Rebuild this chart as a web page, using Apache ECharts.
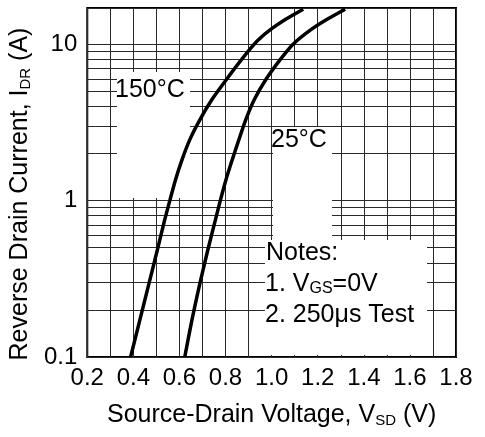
<!DOCTYPE html>
<html><head><meta charset="utf-8">
<script src="https://cdn.jsdelivr.net/npm/echarts@6/dist/echarts.min.js"></script>
<style>html,body{margin:0;padding:0;background:#fff}#c{width:485px;height:437px}</style>
</head><body><div id="c"></div>
<script>
// ---- data ----
const curve150V = [0.388, 0.428, 0.466, 0.504, 0.536, 0.559, 0.583, 0.611, 0.645, 0.689, 0.741, 0.804, 0.853, 0.905, 0.944, 0.996, 1.061, 1.137];
const curve150I = [0.10, 0.172, 0.288, 0.483, 0.752, 1.01, 1.36, 1.82, 2.45, 3.29, 4.42, 5.94, 7.41, 9.25, 10.7, 12.4, 14.4, 16.7];
const curve25V = [0.623, 0.654, 0.687, 0.723, 0.756, 0.778, 0.802, 0.829, 0.858, 0.888, 0.925, 0.975, 1.038, 1.092, 1.172, 1.241, 1.319];
const curve25I = [0.10, 0.172, 0.288, 0.483, 0.752, 1.01, 1.36, 1.82, 2.45, 3.29, 4.42, 5.94, 7.98, 9.95, 12.4, 14.4, 16.7];
const seriesNames = ['150°C', '25°C'];
const xTickLabels = [0.2, 0.4, 0.6, 0.8, 1.0, 1.2, 1.4, 1.6, 1.8];
const yTickLabels = [0.1, 1, 10];
const yMinorGrid = [0.2, 0.3, 0.4, 0.5, 0.6, 0.7, 0.8, 0.9, 2, 3, 4, 5, 6, 7, 8, 9];
const notesLines = ['Notes:', '1. V{sub|GS}=0V', '2. 250μs Test'];
const xName = 'Source-Drain Voltage, V{sub|SD} (V)';
const yName = 'Reverse Drain Current, I{sub|DR} (A)';

const FONT = "'Liberation Sans', Arial, sans-serif";
const gridLine = { color: '#2a2a2a', width: 1, type: 'solid' };
const subRich = { sub: { fontSize: 15, fontFamily: FONT, color: '#000', verticalAlign: 'bottom' } };

const chart = echarts.init(document.getElementById('c'), null, { renderer: 'canvas' });
chart.setOption({
  animation: false,
  backgroundColor: '#fff',
  grid: { left: 87, right: 29, top: 8, bottom: 80, show: true, borderColor: '#000', borderWidth: 2, backgroundColor: 'transparent' },
  xAxis: {
    type: 'value', min: 0.2, max: 1.8, interval: 0.2,
    axisLine: { show: false }, axisTick: { show: false },
    splitLine: { show: true, lineStyle: gridLine },
    minorTick: { show: false, splitNumber: 2 },
    minorSplitLine: { show: true, lineStyle: gridLine },
    axisLabel: {
      fontSize: 24, fontFamily: FONT, color: '#000', margin: 9,
      formatter: v => {
        const hit = xTickLabels.find(t => Math.abs(t - v) < 1e-6);
        return hit === undefined ? '' : hit.toFixed(1);
      }
    },
    name: xName, nameLocation: 'middle', nameGap: 46,
    nameTextStyle: { fontSize: 25, fontFamily: FONT, color: '#000', rich: subRich }
  },
  yAxis: {
    type: 'log', logBase: 10, min: 0.1, max: 17,
    axisLine: { show: false }, axisTick: { show: false },
    splitLine: { show: true, lineStyle: gridLine },
    axisLabel: {
      fontSize: 24, fontFamily: FONT, color: '#000', margin: 10,
      formatter: v => {
        const hit = yTickLabels.find(t => Math.abs(t - v) / t < 1e-6);
        return hit === undefined ? '' : String(hit);
      }
    },
    name: yName, nameLocation: 'middle', nameGap: 48,
    nameTextStyle: { fontSize: 25, fontFamily: FONT, color: '#000', padding: [0, 23, 0, 0], rich: subRich }
  },
  series: [
    {
      name: seriesNames[0], type: 'line', z: 10,
      data: curve150V.map((v, i) => [v, curve150I[i]]),
      smooth: 0.25, symbol: 'none', showSymbol: false,
      lineStyle: { color: '#000', width: 3.5 }
    },
    {
      name: seriesNames[1], type: 'line', z: 10,
      data: curve25V.map((v, i) => [v, curve25I[i]]),
      smooth: 0.25, symbol: 'none', showSymbol: false,
      lineStyle: { color: '#000', width: 3.5 },
      markLine: {
        z: 1, silent: true, animation: false, symbol: ['none', 'none'],
        label: { show: false }, lineStyle: gridLine,
        emphasis: { disabled: true },
        data: yMinorGrid.map(v => ({ yAxis: v }))
      }
    }
  ],
  graphic: [
    { type: 'rect', z: 5, shape: { x: 117, y: 72, width: 73, height: 126 }, style: { fill: '#fff' } },
    { type: 'rect', z: 5, shape: { x: 273, y: 127, width: 59, height: 115 }, style: { fill: '#fff' } },
    { type: 'rect', z: 5, shape: { x: 265, y: 240, width: 162, height: 115 }, style: { fill: '#fff' } },
    { type: 'text', z: 20, x: 115, y: 78, style: { text: seriesNames[0], fontSize: 25, fontFamily: FONT, fill: '#000', align: 'left', verticalAlign: 'top' } },
    { type: 'text', z: 20, x: 271, y: 128, style: { text: seriesNames[1], fontSize: 25, fontFamily: FONT, fill: '#000', align: 'left', verticalAlign: 'top' } },
    { type: 'text', z: 20, x: 266, y: 241, style: { text: notesLines[0], fontSize: 25, fontFamily: FONT, fill: '#000', align: 'left', verticalAlign: 'top' } },
    { type: 'text', z: 20, x: 265, y: 272, style: { text: notesLines[1], fontSize: 25, fontFamily: FONT, fill: '#000', align: 'left', verticalAlign: 'top', rich: { sub: { fontSize: 16, fontFamily: FONT, fill: '#000', verticalAlign: 'bottom' } } } },
    { type: 'text', z: 20, x: 265, y: 303, style: { text: notesLines[2], fontSize: 25, fontFamily: FONT, fill: '#000', align: 'left', verticalAlign: 'top' } }
  ]
});
</script>
</body></html>
